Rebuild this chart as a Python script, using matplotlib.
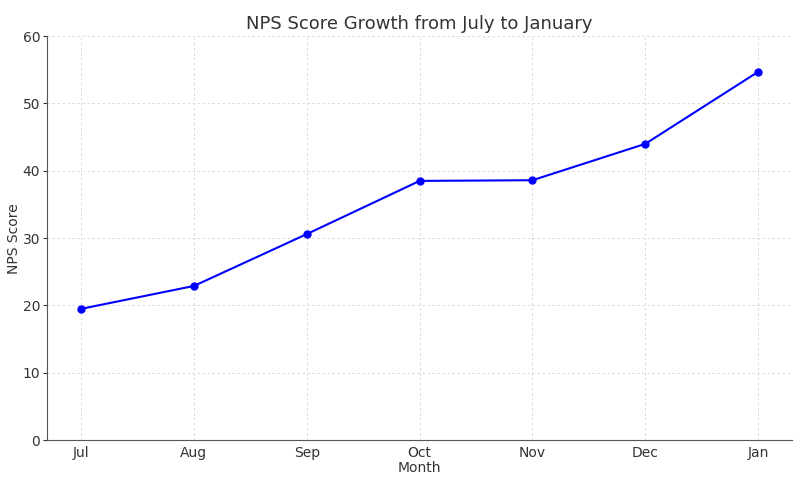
import matplotlib
matplotlib.use("Agg")
import matplotlib.pyplot as plt

months = ["Jul", "Aug", "Sep", "Oct", "Nov", "Dec", "Jan"]
nps_scores = [19.5, 22.9, 30.6, 38.5, 38.6, 44.0, 54.7]

text_color = "#333333"
plt.rcParams["text.color"] = text_color
plt.rcParams["axes.labelcolor"] = text_color
plt.rcParams["xtick.color"] = text_color
plt.rcParams["ytick.color"] = text_color

fig, ax = plt.subplots(figsize=(8, 4.88), dpi=100)
fig.subplots_adjust(left=0.059, right=0.99, top=0.926, bottom=0.098)

ax.plot(months, nps_scores, color="blue", marker="o", markersize=5, linewidth=1.5)

ax.set_title("NPS Score Growth from July to January", fontsize=13, pad=5)
ax.set_xlabel("Month", fontsize=10, labelpad=1)
ax.set_ylabel("NPS Score", fontsize=10, labelpad=1)
ax.set_ylim(0, 60)
ax.set_xlim(-0.3, 6.3)

ax.grid(True, linestyle=(0, (3, 3)), color="#d5d5d5", linewidth=0.6)
ax.spines["top"].set_visible(False)
ax.spines["right"].set_visible(False)
for s in ["left", "bottom"]:
    ax.spines[s].set_color("#555555")
ax.tick_params(axis="y", labelsize=10, length=3, width=0.8, pad=2)
ax.tick_params(axis="x", labelsize=10, length=0, pad=4)

fig.savefig("out.png")
